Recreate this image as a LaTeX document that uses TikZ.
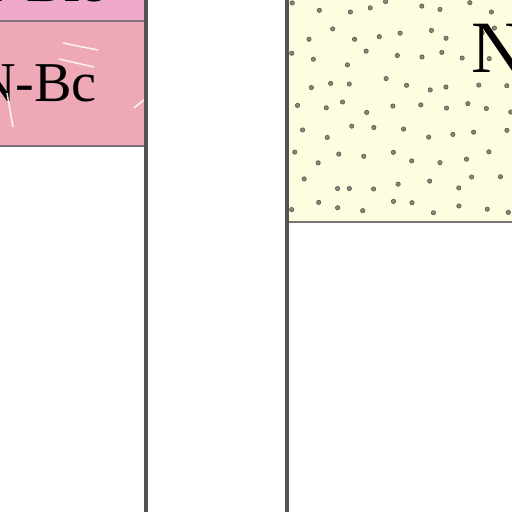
\documentclass[tikz,border=0pt]{standalone}
\usepackage{fontspec}
\setmainfont{Liberation Serif}
\usetikzlibrary{positioning}
\definecolor{pinklight}{HTML}{F0A9CB}
\definecolor{pinkband}{HTML}{EFA8B5}
\definecolor{sandfill}{HTML}{FFFDDF}
\definecolor{edgegray}{HTML}{7A7478}
\definecolor{dotgray}{HTML}{8A8578}
\begin{document}
\begin{tikzpicture}[
  x=0.02cm,y=-0.02cm,
  layer/.style={draw=edgegray,line width=1.2pt},
  colline/.style={draw=edgegray!70!black,line width=1.8pt},
  unitlabel/.style={font=\fontsize{32}{32}\selectfont,inner sep=0pt,anchor=base},
  scratch/.style={draw=white,line width=0.9pt,opacity=0.85},
  grain/.style={fill=dotgray,draw=dotgray!60!black,line width=0.3pt}
]
\useasboundingbox (0,0) rectangle (512,512);
\clip (0,0) rectangle (512,512);
% left column: pink units
\fill[pinklight] (-10,-10) rectangle (146,21);
\fill[pinkband] (-10,21) rectangle (146,146);
\draw[layer] (-10,21) -- (146,21);
\draw[layer] (-10,146) -- (146,146);
\node[unitlabel] (upper) at (36,1) {N-Blc};
\node[unitlabel] (lower) at (36,101) {N-Bc};
% scratches in the pink
\draw[scratch] (63,43) -- (98,50);
\draw[scratch] (59,59) -- (94,67);
\draw[scratch] (7,93) -- (13,127);
\draw[scratch] (134,108) -- (145,99);
% right column: sandy unit
\fill[sandfill] (287,-10) rectangle (520,222);
\pgfmathsetseed{4127}
\foreach \row in {0,...,8}{
  \foreach \col in {0,...,9}{
    \pgfmathsetmacro{\gx}{296+\col*24+mod(\row,2)*12+rnd*14-7}
    \pgfmathsetmacro{\gy}{8+\row*25+rnd*14-7}
    \fill[grain] (\gx,\gy) circle (2.2);
  }
}
\draw[layer] (287,222) -- (520,222);
\node[unitlabel,font=\fontsize{42}{42}\selectfont,anchor=base west] (sand) at (471,72) {N};
% column borders
\draw[colline] (146,-10) -- (146,520);
\draw[colline] (287,-10) -- (287,520);
\end{tikzpicture}
\end{document}
